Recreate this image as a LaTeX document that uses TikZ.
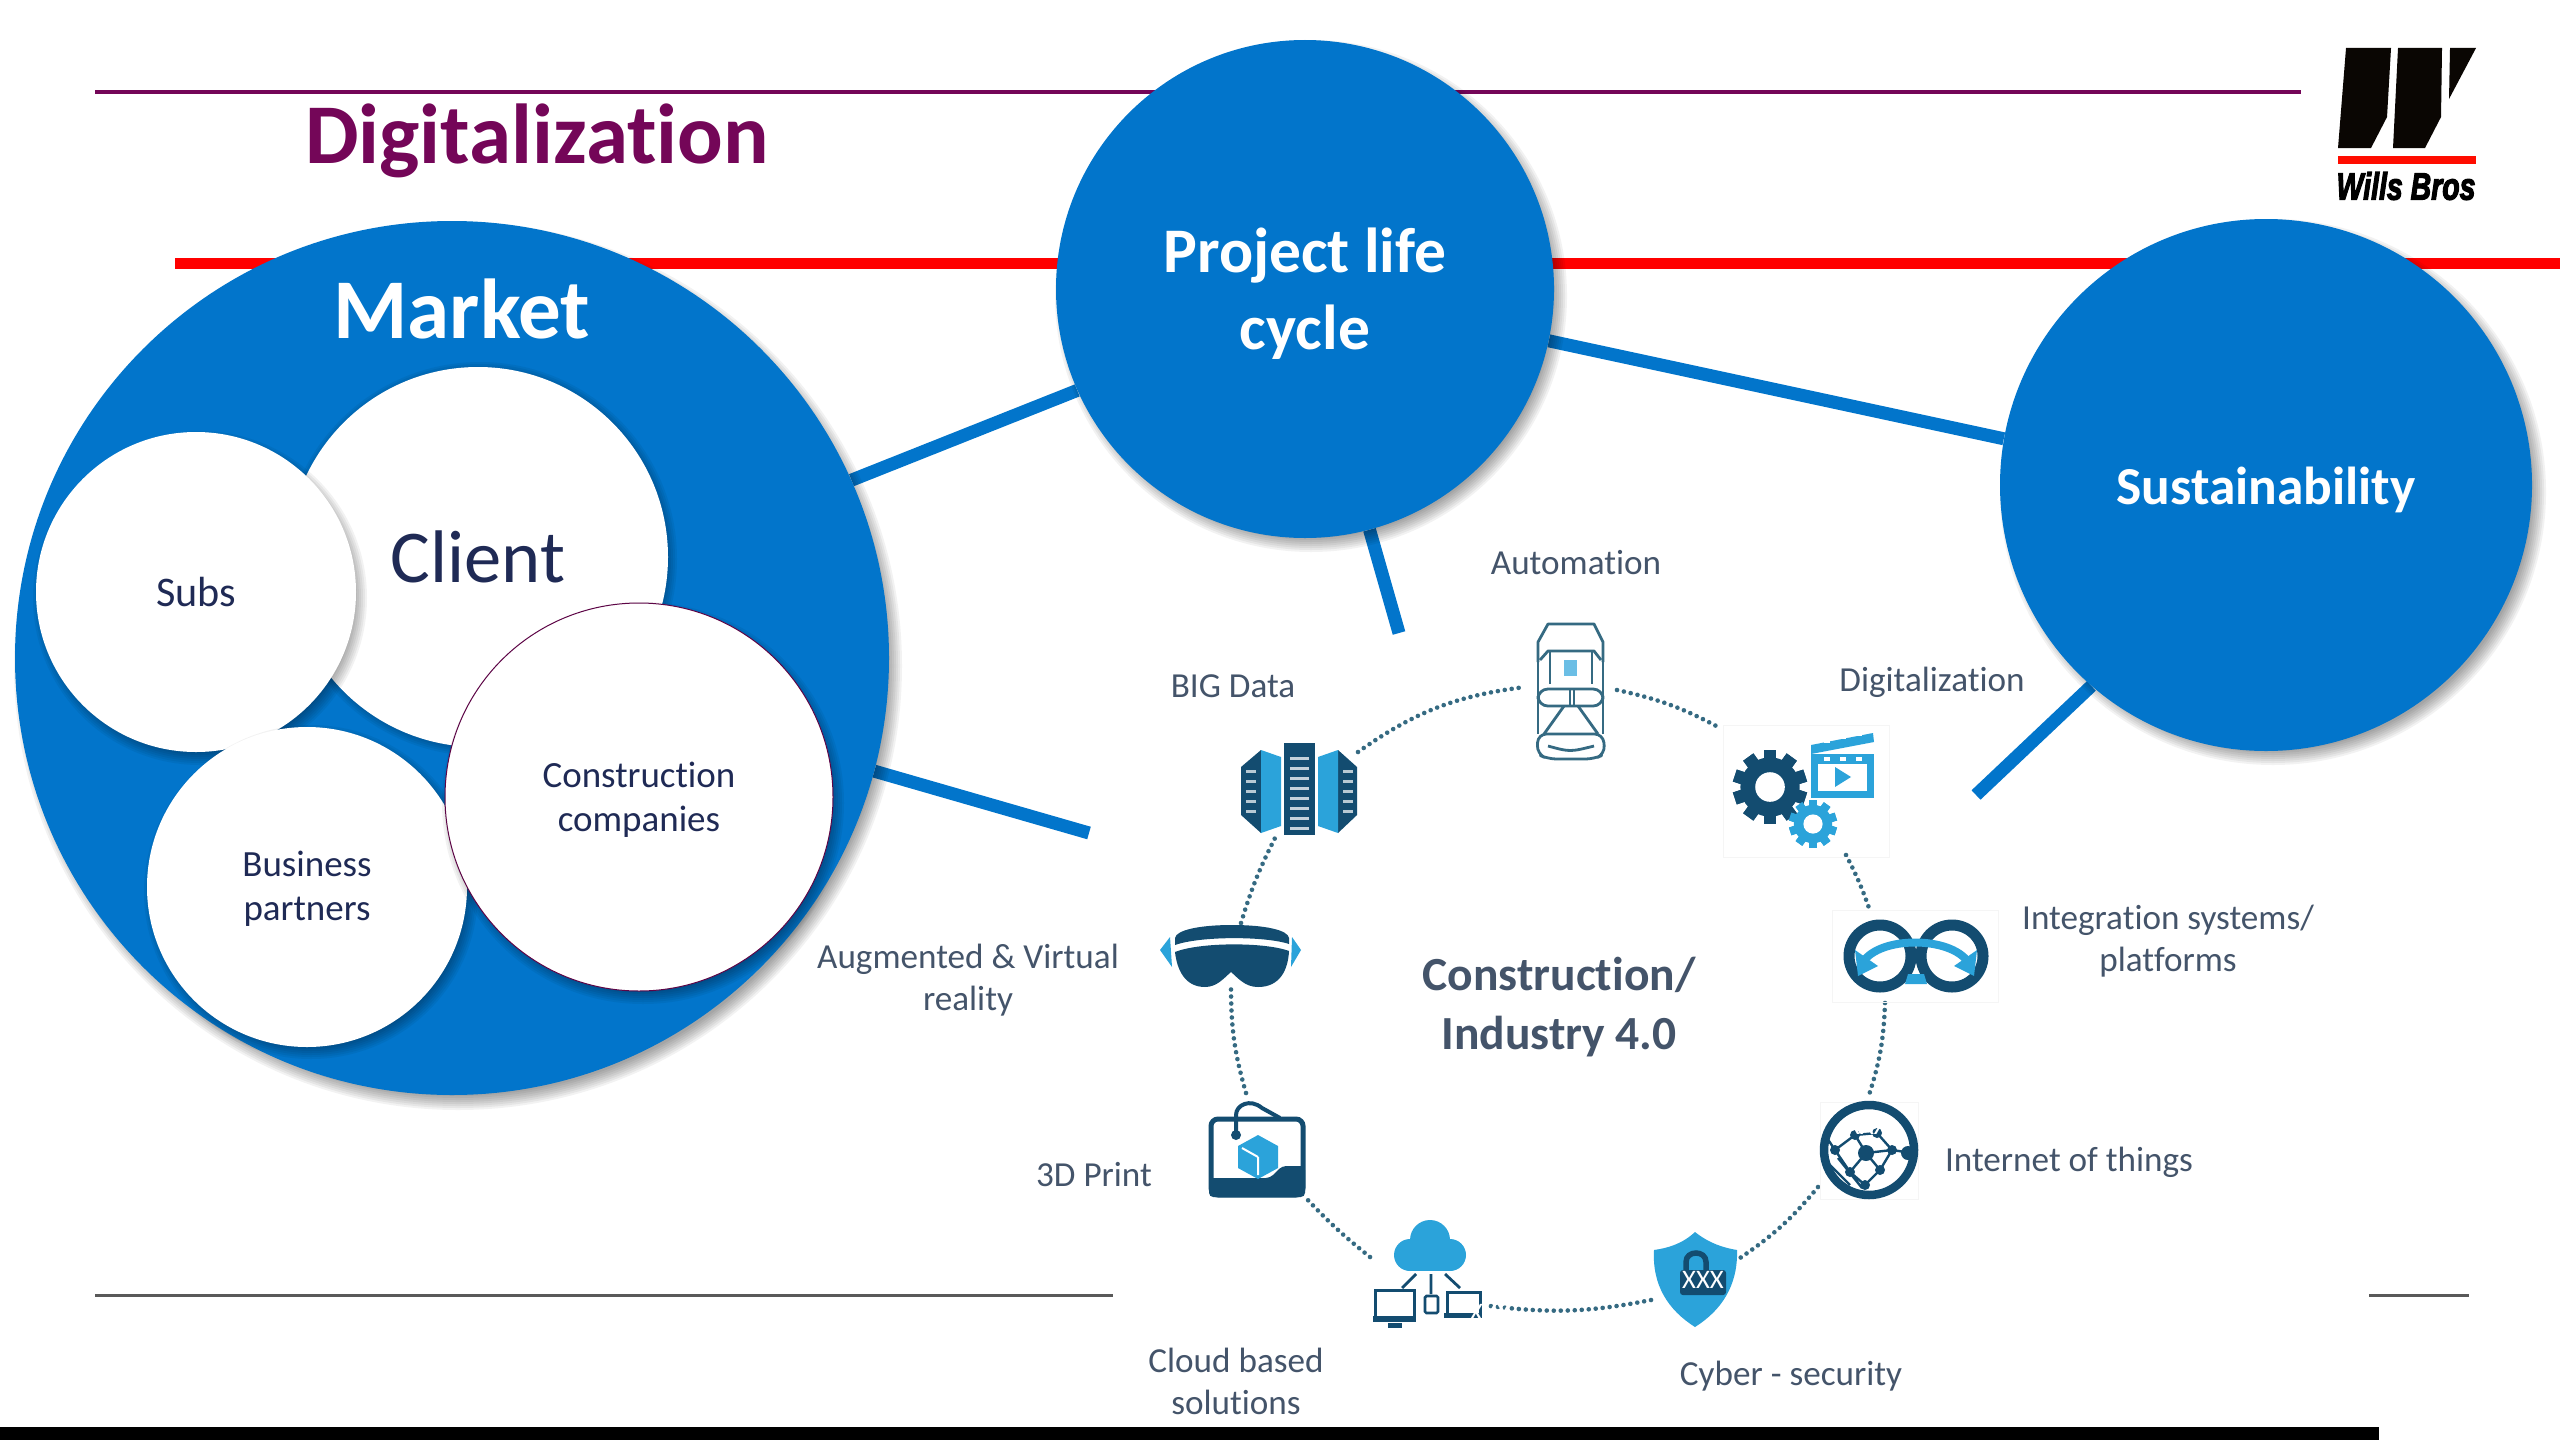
\documentclass[tikz,border=0pt]{standalone}
\usepackage{fontspec}
\setmainfont{Carlito}[Ligatures=NoCommon]
\font\logofnt="Liberation Sans/BI:embolden=3.5" at 27pt
\pgfdeclarelayer{background}
\pgfsetlayers{background,main}
\newdimen\upx \upx=0.25mm
\definecolor{wbblue}{HTML}{0275CB}
\definecolor{wbmaroon}{HTML}{740658}
\definecolor{wbred}{HTML}{FF0000}
\definecolor{wbnavy}{HTML}{1F2A55}
\definecolor{wblabel}{HTML}{44546A}
\definecolor{icdark}{HTML}{134C70}
\definecolor{iclight}{HTML}{2BA3DA}
\definecolor{icdot}{HTML}{356A82}
\definecolor{wbgray}{HTML}{595959}
\newcommand\softshadow[3]{\foreach \k in {0,...,7}{\fill[black,opacity=0.05] (#1,#2) circle[radius={#3+7-2*\k}];}}
\newcommand\gearicon[4]{\begin{scope}[shift={(#1,#2)}]
  \foreach \a in {0,36,...,324}{\fill[#4,rotate=\a] (-0.17*#3,-#3) rectangle (0.17*#3,#3);}
  \fill[#4] (0,0) circle[radius={0.8*#3}];
  \fill[white] (0,0) circle[radius={0.4*#3}];
\end{scope}}
\tikzset{
  x=0.25mm,y=-0.25mm,
  disc/.style={circle,minimum size={2*#1*\upx},inner sep=0pt,fill=white},
  bluedisc/.style={disc=#1,fill=wbblue},
  link/.style={wbblue,line width=13*\upx},
  lbl/.style={text=wblabel,font=\fontsize{25}{30}\selectfont,align=center,inner sep=0pt},
  dark/.style={text=wbnavy,font=\fontsize{26.3}{31}\selectfont,align=center},
  dots/.style={icdot,line width=4.6*\upx,line cap=round,dash pattern=on 0pt off 7*\upx},
  art/.style={text=white,font=\fontsize{19}{19}\selectfont,inner sep=0pt},
  thinic/.style={draw=icdot,line width=2.8*\upx,line join=round}
}
\begin{document}
\begin{tikzpicture}
\useasboundingbox (0,0) rectangle (2560,1440);
\begin{pgfonlayer}{background}
\fill[white] (0,0) rectangle (2560,1440);
\coordinate (maroonA) at (95,92); \coordinate (maroonB) at (2301,92);
\coordinate (redA) at (175,263); \coordinate (redB) at (2560,263);
\coordinate (grayA) at (95,1295); \coordinate (grayB) at (1113,1295);
\coordinate (grayC) at (2369,1295); \coordinate (grayD) at (2469,1295);
\draw[wbmaroon,line width=3.5*\upx] (maroonA) -- (maroonB);
\draw[wbred,line width=11*\upx] (redA) -- (redB);
\draw[wbgray,line width=3*\upx] (grayA) -- (grayB);
\draw[wbgray,line width=3*\upx] (grayC) -- (grayD);
\fill[black] (0,1427) rectangle (2379,1440);
\end{pgfonlayer}

% circles
\softshadow{458}{666}{437}
\node[bluedisc=437] (market) at (452,658) {};
\softshadow{1311}{296}{249}
\node[bluedisc=249] (project) at (1305,289) {};
\node[text=white,align=center,inner sep=0pt,font=\bfseries\fontsize{45.2}{55}\selectfont] (projecttext) at (1305,294) {Project life\\cycle};
\softshadow{2273}{492}{266}
\node[bluedisc=266] (sustain) at (2266,485) {};
\node[text=white,inner sep=0pt,font=\bfseries\fontsize{38}{40}\selectfont] (sustaintext) at (2266,490) {Sustainability};
\node[text=white,font=\bfseries\fontsize{60.5}{60}\selectfont,inner sep=0pt] (marketlabel) at (462,309) {Market};
\softshadow{480}{559}{190}
\node[disc=190,text=wbnavy,font=\fontsize{53}{53}\selectfont] (client) at (478,557) {Client};
\softshadow{200}{598}{160}
\node[disc=160,text=wbnavy,font=\fontsize{30}{30}\selectfont] (subs) at (196,592) {Subs};
\softshadow{311}{892}{160}
\node[disc=160] (business) at (307,887) {};
\node[dark,inner sep=0pt] (businesstext) at (307,889) {Business\\partners};
\softshadow{643}{803}{194}
\node[disc=194,draw=wbmaroon!80!black,line width=1*\upx] (construction) at (639,797) {};
\node[dark,inner sep=0pt] (constructiontext) at (639,800) {Construction\\companies};

% connectors
\coordinate (freeA) at (1399,633);
\coordinate (freeB) at (1089,833);
\coordinate (freeC) at (1976,795);
\begin{pgfonlayer}{background}
\draw[link] (market.24.5) -- (project.204);
\draw[link] (project.-12.5) -- (sustain.170.4);
\draw[link] (project.-75.3) -- (freeA);
\draw[link] (market.-15.5) -- (freeB);
\draw[link] (sustain.229.3) -- (freeC);
\end{pgfonlayer}

% title and labels
\node[text=wbmaroon,font=\bfseries\fontsize{60.5}{60}\selectfont,inner sep=0pt] (title) at (537,141) {Digitalization};
\node[lbl] (lAuto) at (1576,563) {Automation};
\node[lbl] (lBig) at (1233,686) {BIG Data};
\node[lbl] (lDig) at (1932,682) {Digitalization};
\node[lbl] (lInt) at (2168,941) {Integration systems/\\platforms};
\node[lbl] (lIot) at (2069,1162) {Internet of things};
\node[lbl] (lCyb) at (1791,1376) {Cyber - security};
\node[lbl] (lClo) at (1236,1381) {Cloud based\\solutions};
\node[lbl] (l3d) at (1094,1175) {3D Print};
\node[lbl] (lAug) at (968,980) {Augmented \& Virtual\\reality};
\node[lbl,font=\bfseries\fontsize{33.8}{42}\selectfont] (lCen) at (1559,1007) {Construction/\\Industry 4.0};

% dotted ring
\coordinate (d1a) at (1358,752); \coordinate (d1b) at (1525,687);
\coordinate (d2a) at (1617,690); \coordinate (d2b) at (1720,728);
\coordinate (d3a) at (1846,855); \coordinate (d3b) at (1869,908);
\coordinate (d4a) at (1885,1003); \coordinate (d4b) at (1868,1098);
\coordinate (d5a) at (1818,1187); \coordinate (d5b) at (1740,1258);
\coordinate (d6a) at (1651,1300); \coordinate (d6b) at (1490,1306);
\coordinate (d7a) at (1370,1257); \coordinate (d7b) at (1305,1197);
\coordinate (d8a) at (1246,1093); \coordinate (d8b) at (1231,987);
\coordinate (d9a) at (1241,923); \coordinate (d9b) at (1275,838);
\draw[dots] (d1a) to[bend left=14] (d1b);
\draw[dots] (d2a) to[bend left=8] (d2b);
\draw[dots] (d3a) to[bend left=4] (d3b);
\draw[dots] (d4a) to[bend left=8] (d4b);
\draw[dots] (d5a) to[bend left=8] (d5b);
\draw[dots] (d6a) to[bend left=9] (d6b);
\draw[dots] (d7a) to[bend left=4] (d7b);
\draw[dots] (d8a) to[bend left=8] (d8b);
\draw[dots] (d9a) to[bend left=5] (d9b);

% car
\begin{scope}[shift={(1570,692)}]
\draw[thinic] (-32,-30) -- (-32,-50) -- (-22,-68) -- (24,-68) -- (33,-50) -- (33,-30);
\draw[thinic] (-32,-30) -- (-32,42) (33,-30) -- (33,42);
\draw[thinic,rounded corners=6] (-32,42) -- (-33,62) -- (-22,67) -- (24,67) -- (35,62) -- (33,42) -- cycle;
\draw[thinic] (-30,-32) -- (-22,-41) -- (24,-41) -- (31,-32);
\draw[thinic] (-20,-41) -- (-20,-8) (22,-41) -- (22,-8);
\fill[iclight!70] (-6,-32) rectangle (7,-16);
\draw[thinic,rounded corners=7] (-32,-3) rectangle (33,14);
\draw[thinic] (0,-3) -- (0,14) (4,-3) -- (4,14);
\draw[thinic] (-6,14) -- (-26,42) (8,14) -- (28,42);
\draw[thinic] (-22,54) .. controls (0,60) .. (24,54);
\end{scope}

% servers
\fill[icdark] (1284,743) rectangle (1315,835);
\foreach \yy in {757,767,...,827}{\fill[white!75!icdark] (1290,\yy) rectangle (1309,\yy+3);}
\fill[icdark] (1261,750) -- (1241,767) -- (1241,815) -- (1261,833) -- cycle;
\fill[iclight] (1261,750) -- (1281,757) -- (1281,826) -- (1261,833) -- cycle;
\fill[icdark] (1338,750) -- (1357,767) -- (1357,815) -- (1338,833) -- cycle;
\fill[iclight] (1338,750) -- (1318,757) -- (1318,826) -- (1338,833) -- cycle;
\foreach \yy in {770,780,...,810}{
  \fill[white!70!icdark] (1246,\yy) rectangle (1256,\yy+2.5);
  \fill[white!70!icdark] (1343,\yy) rectangle (1353,\yy+2.5);}

% digitalization icon
\draw[gray!8,line width=1*\upx] (1723,725) rectangle (1889,857);
\gearicon{1770}{787}{37}{icdark}
\fill[iclight] (1811,754) rectangle (1874,798);
\fill[white] (1818,764) rectangle (1867,791);
\fill[iclight] (1811,745) -- (1873,733) -- (1874,742) -- (1811,754) -- cycle;
\foreach \q in {1824,1840,1856}{\fill[white] (\q,{742-(\q-1811)*0.19}) rectangle (\q+6,{745-(\q-1811)*0.19});
  \fill[white] (\q,757) rectangle (\q+6,761);}
\fill[iclight] (1835,767) -- (1851,777) -- (1835,787) -- cycle;
\gearicon{1813}{824}{24}{iclight}

% integration icon
\draw[gray!8,line width=1*\upx] (1832,910) rectangle (1998,1002);
\draw[icdark,line width=11*\upx] (1880,956) circle[radius=31];
\draw[icdark,line width=11*\upx] (1952,956) circle[radius=31];
\draw[iclight,line width=8*\upx] (1863,962) .. controls (1880,936) and (1950,936) .. (1968,962);
\fill[iclight] (1855,950) -- (1878,966) -- (1858,976) -- cycle;
\fill[iclight] (1977,950) -- (1954,966) -- (1974,976) -- cycle;
\fill[iclight] (1908,974) -- (1924,974) -- (1927,984) -- (1905,984) -- cycle;

% VR icon
\fill[icdark] (1175,938) .. controls (1176,930) and (1200,925) .. (1232,925) .. controls (1265,925) and (1288,930) .. (1289,938) -- (1289,944) .. controls (1265,936) and (1200,936) .. (1175,945) -- cycle;
\fill[icdark] (1175,952) .. controls (1200,942) and (1265,942) .. (1289,951) .. controls (1288,970) and (1280,987) .. (1258,987) .. controls (1245,987) and (1238,978) .. (1231,972) .. controls (1224,978) and (1217,987) .. (1205,987) .. controls (1185,987) and (1177,970) .. (1175,952) -- cycle;
\fill[iclight] (1160,950) -- (1170,937) -- (1172,967) -- cycle;
\fill[iclight] (1301,950) -- (1292,937) -- (1291,967) -- cycle;

% printer
\draw[icdark,line width=5*\upx,rounded corners=5] (1211,1119) rectangle (1303,1195);
\fill[icdark,rounded corners=3] (1209,1178) -- (1270,1178) -- (1282,1166) -- (1305,1166) -- (1305,1197) -- (1209,1197) -- cycle;
\draw[icdark,line width=4*\upx] (1236,1135) -- (1236,1115) .. controls (1236,1105) and (1250,1098) .. (1262,1108) -- (1280,1118);
\fill[icdark] (1236,1135) circle[radius=5];
\fill[iclight] (1258,1135) -- (1278,1146) -- (1278,1168) -- (1258,1179) -- (1238,1168) -- (1238,1146) -- cycle;
\draw[white,line width=2*\upx] (1258,1157) -- (1258,1175) (1258,1157) -- (1242,1148);

% cloud icon
\fill[iclight] (1430,1240) circle[radius=20];
\fill[iclight] (1410,1255) circle[radius=16];
\fill[iclight] (1450,1255) circle[radius=16];
\fill[iclight] (1410,1250) rectangle (1450,1271);
\draw[icdark,line width=2.8*\upx] (1416,1274) -- (1402,1288) (1431,1274) -- (1431,1294) (1445,1274) -- (1460,1288);
\draw[icdark,line width=3*\upx] (1375,1290) rectangle (1414,1320);
\fill[icdark] (1373,1316) rectangle (1416,1322);
\fill[icdark] (1388,1323) rectangle (1402,1328);
\draw[icdark,line width=2.6*\upx,rounded corners=1] (1425,1296) rectangle (1438,1313);
\draw[icdark,line width=3*\upx] (1447,1292) rectangle (1480,1316);
\fill[icdark] (1444,1313) rectangle (1482,1318);
\node[art] (xCloud) at (1490,1313) {XXX};

% shield
\fill[iclight] (1695,1232) .. controls (1710,1244) and (1725,1248) .. (1737,1250) .. controls (1738,1285) and (1722,1310) .. (1695,1327) .. controls (1668,1310) and (1652,1285) .. (1654,1250) .. controls (1668,1248) and (1682,1244) .. (1695,1232) -- cycle;
\draw[icdark,line width=5.5*\upx] (1686,1274) -- (1686,1262) .. controls (1686,1250) and (1706,1250) .. (1706,1262) -- (1706,1274);
\fill[icdark,rounded corners=2] (1680,1270) rectangle (1726,1295);
\node[art] (xShield) at (1703,1280) {XXX};

% IoT
\draw[gray!8,line width=1*\upx] (1820,1102) rectangle (1918,1199);
\draw[icdark,line width=8.5*\upx] (1869,1150) circle[radius=45];
\draw[icdark,line width=2.4*\upx] (1866,1153) -- (1855,1135) -- (1877,1133) -- (1892,1150) -- (1880,1170) -- (1866,1153) -- (1892,1150) (1866,1153) -- (1850,1172) -- (1865,1185) -- (1880,1170) (1855,1135) -- (1835,1150) -- (1850,1172) (1892,1150) -- (1912,1153) (1830,1165) -- (1850,1185) (1838,1158) -- (1862,1188) (1835,1150) -- (1825,1135);
\fill[icdark] (1866,1153) circle[radius=8];
\foreach \a/\b in {1855/1135,1877/1133,1880/1170,1850/1172,1865/1185,1835/1150,1892/1150}{\fill[icdark] (\a,\b) circle[radius=5];}
\fill[icdark] (1908,1153) circle[radius=7];
\node[art] (xIot) at (1867,1126) {XXX};

% logo
\fill[black!95!brown] (2346,48) -- (2391,48) -- (2387,117) -- (2371,148) -- (2338,148) -- cycle;
\fill[black!95!brown] (2398,48) -- (2442,48) -- (2441,117) -- (2425,148) -- (2393,148) -- cycle;
\fill[black!95!brown] (2450,48) -- (2476,48) -- (2449,99) -- cycle;
\fill[red!90!orange] (2338,156) rectangle (2476,164);
\node[inner sep=0pt,xscale=0.75,font=\logofnt] (logotext) at (2406,186) {Wills Bros};
\end{tikzpicture}
\end{document}
